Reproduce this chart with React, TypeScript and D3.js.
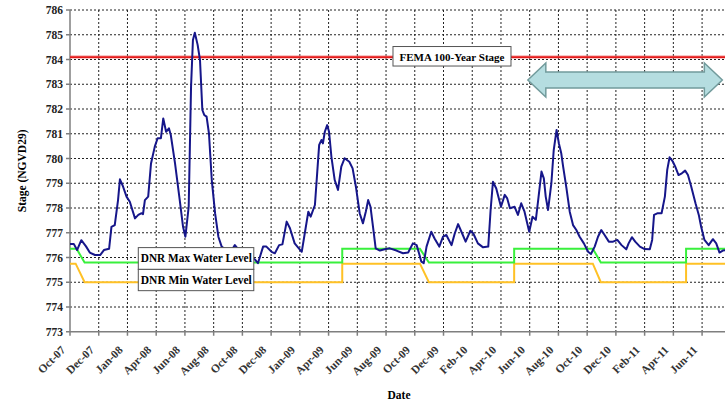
import { useEffect, useRef } from "react";
import * as d3 from "d3";

// daily stage readings (at the turning points)
const stageSeries: [string, number][] = [
  ["2007-10-01", 776.55], ["2007-10-09", 776.55], ["2007-10-16", 776.3], ["2007-10-25", 776.7],
  ["2007-11-04", 776.45], ["2007-11-12", 776.2], ["2007-11-23", 776.1], ["2007-12-04", 776.1],
  ["2007-12-12", 776.3], ["2007-12-23", 776.35], ["2007-12-28", 777.24], ["2008-01-04", 777.31],
  ["2008-01-11", 778.32], ["2008-01-15", 779.16], ["2008-01-21", 778.9], ["2008-01-29", 778.46],
  ["2008-02-05", 778.25], ["2008-02-16", 777.58], ["2008-02-23", 777.72], ["2008-03-01", 777.79],
  ["2008-03-04", 777.75], ["2008-03-08", 778.32], ["2008-03-15", 778.46], ["2008-03-21", 779.8],
  ["2008-03-29", 780.48], ["2008-04-04", 780.82], ["2008-04-11", 780.82], ["2008-04-16", 781.62],
  ["2008-04-22", 781.08], ["2008-04-28", 781.22], ["2008-05-02", 780.95], ["2008-05-11", 779.8],
  ["2008-05-21", 778.32], ["2008-05-28", 777.24], ["2008-06-02", 776.84], ["2008-06-09", 778.05],
  ["2008-06-14", 782.9], ["2008-06-18", 784.79], ["2008-06-22", 785.08], ["2008-06-28", 784.59],
  ["2008-07-03", 783.98], ["2008-07-08", 781.96], ["2008-07-12", 781.76], ["2008-07-17", 781.69],
  ["2008-07-22", 781.02], ["2008-07-28", 779.13], ["2008-08-04", 777.79], ["2008-08-11", 776.84],
  ["2008-08-18", 776.44], ["2008-08-27", 776.3], ["2008-09-07", 776.25], ["2008-09-15", 776.5],
  ["2008-09-26", 776.25], ["2008-10-08", 776.1], ["2008-10-21", 776.0], ["2008-10-27", 775.93],
  ["2008-11-03", 775.77], ["2008-11-14", 776.44], ["2008-11-21", 776.44], ["2008-12-02", 776.23],
  ["2008-12-09", 776.17], ["2008-12-18", 776.5], ["2008-12-25", 776.53], ["2009-01-03", 777.45],
  ["2009-01-10", 777.18], ["2009-01-20", 776.57], ["2009-02-04", 776.23], ["2009-02-11", 777.04],
  ["2009-02-18", 777.85], ["2009-02-23", 777.65], ["2009-03-04", 778.12], ["2009-03-09", 779.47],
  ["2009-03-13", 780.55], ["2009-03-18", 780.75], ["2009-03-21", 780.61], ["2009-03-25", 781.08],
  ["2009-03-30", 781.35], ["2009-04-03", 781.08], ["2009-04-08", 780.07], ["2009-04-15", 779.13],
  ["2009-04-22", 778.73], ["2009-04-29", 779.67], ["2009-05-06", 780.01], ["2009-05-16", 779.87],
  ["2009-05-23", 779.6], ["2009-05-30", 778.86], ["2009-06-07", 777.79], ["2009-06-14", 777.38],
  ["2009-06-20", 777.85], ["2009-06-25", 778.32], ["2009-06-30", 778.05], ["2009-07-07", 776.98],
  ["2009-07-11", 776.37], ["2009-07-20", 776.28], ["2009-07-30", 776.33], ["2009-08-10", 776.37],
  ["2009-08-24", 776.28], ["2009-09-07", 776.17], ["2009-09-18", 776.2], ["2009-09-28", 776.57],
  ["2009-10-06", 776.5], ["2009-10-11", 776.17], ["2009-10-16", 775.83], ["2009-10-21", 775.77],
  ["2009-10-27", 776.44], ["2009-11-06", 777.04], ["2009-11-13", 776.77], ["2009-11-23", 776.44],
  ["2009-12-01", 776.84], ["2009-12-08", 776.91], ["2009-12-19", 776.5], ["2009-12-26", 776.98],
  ["2010-01-02", 777.35], ["2010-01-09", 777.04], ["2010-01-18", 776.64], ["2010-01-28", 777.08],
  ["2010-02-03", 776.98], ["2010-02-13", 776.57], ["2010-02-24", 776.41], ["2010-03-07", 776.44],
  ["2010-03-12", 777.92], ["2010-03-17", 779.06], ["2010-03-24", 778.79], ["2010-04-03", 778.05],
  ["2010-04-11", 778.53], ["2010-04-16", 778.4], ["2010-04-22", 777.99], ["2010-05-02", 778.05],
  ["2010-05-09", 777.72], ["2010-05-16", 778.19], ["2010-05-23", 777.85], ["2010-06-02", 777.04],
  ["2010-06-09", 777.65], ["2010-06-16", 777.52], ["2010-06-21", 778.32], ["2010-06-28", 779.47],
  ["2010-07-03", 779.2], ["2010-07-07", 778.46], ["2010-07-12", 777.92], ["2010-07-19", 779.0],
  ["2010-07-24", 780.34], ["2010-07-30", 781.15], ["2010-08-04", 780.61], ["2010-08-09", 780.21],
  ["2010-08-13", 779.67], ["2010-08-20", 778.8], ["2010-08-27", 777.85], ["2010-09-03", 777.31],
  ["2010-09-10", 777.11], ["2010-09-17", 776.84], ["2010-09-26", 776.57], ["2010-10-05", 776.23],
  ["2010-10-11", 776.14], ["2010-10-19", 776.44], ["2010-10-26", 776.84], ["2010-11-02", 777.11],
  ["2010-11-09", 776.91], ["2010-11-18", 776.64], ["2010-11-27", 776.64], ["2010-12-06", 776.71],
  ["2010-12-15", 776.5], ["2010-12-25", 776.33], ["2010-12-30", 776.57], ["2011-01-06", 776.82],
  ["2011-01-13", 776.64], ["2011-01-23", 776.44], ["2011-02-02", 776.34], ["2011-02-13", 776.33],
  ["2011-02-18", 776.71], ["2011-02-22", 777.72], ["2011-03-02", 777.79], ["2011-03-10", 777.79],
  ["2011-03-17", 778.46], ["2011-03-22", 779.54], ["2011-03-27", 780.05], ["2011-04-03", 779.87],
  ["2011-04-08", 779.67], ["2011-04-15", 779.33], ["2011-04-22", 779.4], ["2011-04-29", 779.51],
  ["2011-05-05", 779.33], ["2011-05-12", 778.86], ["2011-05-21", 778.19], ["2011-05-28", 777.72],
  ["2011-06-02", 777.24], ["2011-06-09", 776.71], ["2011-06-18", 776.5], ["2011-06-27", 776.74],
  ["2011-07-04", 776.57], ["2011-07-11", 776.2], ["2011-07-18", 776.28], ["2011-07-24", 776.3],
];

const dnrMax: [string, number][] = [
  ["2007-10-01", 776.35], ["2007-10-15", 776.35], ["2007-11-01", 775.8], ["2009-05-01", 775.8],
  ["2009-05-01", 776.35], ["2009-10-13", 776.35], ["2009-11-01", 775.8], ["2010-05-01", 775.8],
  ["2010-05-01", 776.35], ["2010-10-15", 776.35], ["2010-11-01", 775.8], ["2011-05-01", 775.8],
  ["2011-05-01", 776.35], ["2011-08-15", 776.35],
];

const dnrMin: [string, number][] = [
  ["2007-10-01", 775.75], ["2007-10-13", 775.75], ["2007-11-01", 775.0], ["2009-05-01", 775.0],
  ["2009-05-01", 775.75], ["2009-10-13", 775.75], ["2009-11-01", 775.0], ["2010-05-01", 775.0],
  ["2010-05-01", 775.75], ["2010-10-15", 775.75], ["2010-11-01", 775.0], ["2011-05-01", 775.0],
  ["2011-05-01", 775.75], ["2011-08-15", 775.75],
];

const femaStage = 784.1;

const xTickLabels = [
  "Oct-07", "Dec-07", "Jan-08", "Apr-08", "Jun-08", "Aug-08", "Oct-08", "Dec-08",
  "Jan-09", "Apr-09", "Jun-09", "Aug-09", "Oct-09", "Dec-09", "Feb-10", "Apr-10",
  "Jun-10", "Aug-10", "Oct-10", "Dec-10", "Feb-11", "Apr-11", "Jun-11",
];
const xTickStepDays = 61;
const yTicks = d3.range(773, 787);

const startDate = "2007-10-01";
const endDate = "2011-08-15";

// annotations
const femaLabel = "FEMA 100-Year Stage";
const femaLabelDate = "2009-12-20";
const dnrLabels = ["DNR Max Water Level", "DNR Min Water Level"];
const dnrLabelDate = "2008-02-23";
const dnrLabelLevels = [776.4, 775.52, 774.66];
const arrowFrom = "2010-05-30";
const arrowTo = "2011-07-17";
const arrowLevel = 783.17;

const FONT = "'Liberation Serif', 'Times New Roman', serif";

export default function App() {
  const svgRef = useRef<SVGSVGElement>(null);
  const width = 725;
  const height = 417;

  useEffect(() => {
    if (!svgRef.current) return;
    const parse = d3.timeParse("%Y-%m-%d");
    const p = (s: string) => parse(s) as Date;

    const svg = d3.select(svgRef.current);
    svg.selectAll("*").remove();

    const x = d3.scaleTime().domain([p(startDate), p(endDate)]).range([70, 736]);
    const y = d3.scaleLinear().domain([773, 786]).range([331.75, 10]);
    const x0 = x.range()[0];
    const x1 = x.range()[1];

    const tickDates = xTickLabels.map((_, i) => d3.timeDay.offset(p(startDate), i * xTickStepDays));

    // grid
    const grid = svg.append("g");
    grid
      .selectAll("line.h")
      .data(yTicks.filter((v) => v > 773))
      .enter()
      .append("line")
      .attr("x1", x0)
      .attr("x2", x1)
      .attr("y1", (d) => y(d))
      .attr("y2", (d) => y(d))
      .attr("stroke", "#222")
      .attr("stroke-width", 1)
      .attr("stroke-dasharray", "2,2");
    grid
      .selectAll("line.v")
      .data(tickDates.slice(1))
      .enter()
      .append("line")
      .attr("x1", (d) => x(d))
      .attr("x2", (d) => x(d))
      .attr("y1", y(786))
      .attr("y2", y(773))
      .attr("stroke", "#222")
      .attr("stroke-width", 1)
      .attr("stroke-dasharray", "2,2");

    // axes
    const axes = svg.append("g").attr("stroke", "#7f7f7f").attr("stroke-width", 1.5);
    axes.append("line").attr("x1", x0).attr("x2", x0).attr("y1", y(786)).attr("y2", y(773));
    axes.append("line").attr("x1", x0).attr("x2", x1).attr("y1", y(773)).attr("y2", y(773));
    axes
      .selectAll("line.yt")
      .data(yTicks)
      .enter()
      .append("line")
      .attr("x1", x0 - 4)
      .attr("x2", x0)
      .attr("y1", (d) => y(d))
      .attr("y2", (d) => y(d));
    axes
      .selectAll("line.xt")
      .data(tickDates)
      .enter()
      .append("line")
      .attr("x1", (d) => x(d))
      .attr("x2", (d) => x(d))
      .attr("y1", y(773))
      .attr("y2", y(773) + 4);

    svg
      .append("g")
      .selectAll("text")
      .data(yTicks)
      .enter()
      .append("text")
      .attr("x", x0 - 7)
      .attr("y", (d) => y(d) + 4)
      .attr("text-anchor", "end")
      .style("font-family", FONT)
      .style("font-size", "11.5px")
      .style("font-weight", "bold")
      .style("fill", "#222")
      .text((d) => String(d));

    svg
      .append("g")
      .selectAll("text")
      .data(tickDates)
      .enter()
      .append("text")
      .attr("transform", (d) => `translate(${x(d) - 4},${y(773) + 19}) rotate(-45)`)
      .attr("text-anchor", "end")
      .style("font-family", FONT)
      .style("font-size", "11.5px")
      .style("font-weight", "bold")
      .style("fill", "#333")
      .text((_, i) => xTickLabels[i]);

    svg
      .append("text")
      .attr("transform", `translate(26,${(y(786) + y(773)) / 2}) rotate(-90)`)
      .attr("text-anchor", "middle")
      .style("font-family", FONT)
      .style("font-size", "11.5px")
      .style("font-weight", "bold")
      .text("Stage (NGVD29)");

    svg
      .append("text")
      .attr("x", 399)
      .attr("y", 399)
      .attr("text-anchor", "middle")
      .style("font-family", FONT)
      .style("font-size", "11.5px")
      .style("font-weight", "bold")
      .text("Date");

    // series
    const line = d3
      .line<[string, number]>()
      .x((d) => x(p(d[0])))
      .y((d) => y(d[1]));

    svg.append("path").datum(dnrMin).attr("d", line).attr("fill", "none").attr("stroke", "#ffc125").attr("stroke-width", 2);
    svg.append("path").datum(dnrMax).attr("d", line).attr("fill", "none").attr("stroke", "#39f03c").attr("stroke-width", 2);

    svg
      .append("line")
      .attr("x1", x0)
      .attr("x2", x1)
      .attr("y1", y(femaStage))
      .attr("y2", y(femaStage))
      .attr("stroke", "#f06a6a")
      .attr("stroke-width", 3.5)
      .attr("opacity", 0.5);
    svg
      .append("line")
      .attr("x1", x0)
      .attr("x2", x1)
      .attr("y1", y(femaStage))
      .attr("y2", y(femaStage))
      .attr("stroke", "#e41a1a")
      .attr("stroke-width", 1.8);

    svg
      .append("path")
      .datum(stageSeries)
      .attr("d", line)
      .attr("fill", "none")
      .attr("stroke", "#16168a")
      .attr("stroke-width", 2)
      .attr("stroke-linejoin", "round");

    // FEMA label
    const fx = x(p(femaLabelDate));
    const fy = y(femaStage);
    svg
      .append("rect")
      .attr("x", fx - 59)
      .attr("y", fy - 10.5)
      .attr("width", 118)
      .attr("height", 19.5)
      .attr("fill", "#fff")
      .attr("stroke", "#555")
      .attr("stroke-width", 1);
    svg
      .append("text")
      .attr("x", fx)
      .attr("y", fy + 3.5)
      .attr("text-anchor", "middle")
      .style("font-family", FONT)
      .style("font-size", "11px")
      .style("font-weight", "bold")
      .text(femaLabel);

    // DNR labels
    const lx = x(p(dnrLabelDate));
    dnrLabels.forEach((label, i) => {
      const top = y(dnrLabelLevels[i]);
      const bottom = y(dnrLabelLevels[i + 1]);
      svg
        .append("rect")
        .attr("x", lx)
        .attr("y", top)
        .attr("width", 115.5)
        .attr("height", bottom - top)
        .attr("fill", "#fff")
        .attr("stroke", "#555")
        .attr("stroke-width", 1);
      svg
        .append("text")
        .attr("x", lx + 2.5)
        .attr("y", (top + bottom) / 2 + 4)
        .attr("textLength", 111)
        .attr("lengthAdjust", "spacingAndGlyphs")
        .style("font-family", FONT)
        .style("font-size", "11.5px")
        .style("font-weight", "bold")
        .text(label);
    });

    // double arrow
    const ax0 = x(p(arrowFrom));
    const ax1 = x(p(arrowTo));
    const ay = y(arrowLevel);
    const head = 18;
    const hh = 17;
    const sh = 8;
    const pts: [number, number][] = [
      [ax0, ay],
      [ax0 + head, ay - hh],
      [ax0 + head, ay - sh],
      [ax1 - head, ay - sh],
      [ax1 - head, ay - hh],
      [ax1, ay],
      [ax1 - head, ay + hh],
      [ax1 - head, ay + sh],
      [ax0 + head, ay + sh],
      [ax0 + head, ay + hh],
    ];
    svg
      .append("polygon")
      .attr("points", pts.map((q) => q.join(",")).join(" "))
      .attr("fill", "#b5dde0")
      .attr("stroke", "#729b9c")
      .attr("stroke-width", 1.5);
  }, []);

  return (
    <div style={{ position: "absolute", left: 0, top: 0, width, height, overflow: "hidden", background: "#fff" }}>
      <svg ref={svgRef} width={width} height={height} style={{ display: "block" }} />
    </div>
  );
}
